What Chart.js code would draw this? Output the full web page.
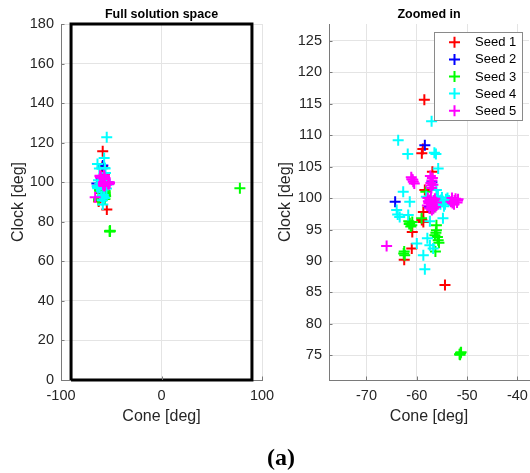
<!DOCTYPE html>
<html>
<head>
<meta charset="utf-8">
<script src="https://cdn.jsdelivr.net/npm/chart.js@4.4.1/dist/chart.umd.min.js"></script>
<style>
  html, body { margin: 0; padding: 0; background: #fff; }
  #wrap { position: relative; width: 530px; height: 473px; overflow: hidden; }
  canvas { position: absolute; top: 0; }
  #full { left: 0; }
  #zoom { left: 270px; }
  #cap { position: absolute; left: 231px; width: 100px; top: 444px; text-align: center;
         font: bold 24px "Liberation Serif", "DejaVu Serif", serif; color: #000; line-height: 26px; }
</style>
</head>
<body>
<div id="wrap">
  <canvas id="full" width="280" height="473"></canvas>
  <canvas id="zoom" width="260" height="473"></canvas>
  <div id="cap">(a)</div>
</div>
<script>
// Optimiser runs: cone / clock angle of each solution, one pair of arrays per seed
const seedLabels = ['Seed 1', 'Seed 2', 'Seed 3', 'Seed 4', 'Seed 5'];
const seedColors = ['#ff0000', '#0000ff', '#00ff00', '#00ffff', '#ff00ff'];

const seed1Cone  = [-58.5, -59.0, -58.8, -56.9, -58.4, -58.7, -59.0, -58.7, -60.9, -61.0, -62.5, -54.4, -57.4];
const seed1Clock = [115.6, 107.1, 107.8, 104.2, 101.3,  97.8,  96.5,  96.2,  94.6,  92.0,  90.2,  86.2,  98.4];

const seed2Cone  = [-58.4, -64.3, -57.2, -57.0, -57.5];
const seed2Clock = [108.4,  99.4,  99.2, 102.5,  98.6];

const seed3Cone  = [78.0, -51.3, -51.5, -51.2, -51.4, -58.2, -59.05, -61.4, -61.0, -61.6, -60.9, -61.2, -61.5, -56.1, -56.1, -56.4, -56.2, -55.75, -55.6, -55.9, -62.5, -62.4, -62.6, -56.3, -56.5];
const seed3Clock = [97.0,  75.4,  75.2,  75.5,  75.1, 101.0,  96.8,   96.0,  95.7,  96.3,  96.2,  95.5,  95.9,  95.7,  94.9,  94.1,  94.5,  93.3,   92.9,  93.8,  91.5,  90.9,  91.2,  91.5,  98.6];

const seed4Cone  = [-54.5, -57.06, -63.7, -61.8, -56.5, -56.2, -55.75, -56.1, -62.7, -61.4, -54.8, -54.2, -55.3, -53.6, -55.8, -55.6, -55.0, -54.4, -53.9, -55.2, -54.6, -64.0, -63.8, -63.4, -61.7, -54.8, -57.9, -60.0, -57.4, -56.75, -58.7, -58.4, -58.1, -57.4];
const seed4Clock = [122.8, 112.2, 109.2, 107.0, 107.2, 107.0, 104.7, 101.3, 101.0,  99.4,  99.4,  99.8,  99.0,  99.6, 100.3,  99.2, 100.1,  99.0, 100.0,  99.7,  98.7,  98.1,  97.4,  97.0,  97.3,  96.8,  93.6,  92.8,  92.5,  92.0,   90.9,  88.7, 100.2,  96.3];

const seed5Cone  = [-66.0, -61.1, -60.8, -60.5, -61.0, -60.7,
                    -57.3, -57.0, -57.3, -57.1, -56.9, -57.2, -56.8,
                    -57.8, -57.2, -56.6, -57.6, -56.9, -57.5, -56.3, -57.0, -57.9, -56.1, -57.4, -56.7, -57.1, -56.4, -57.7, -56.9,
                    -53.0, -52.5, -52.0, -52.6, -51.8, -53.2, -52.3, -52.9, -51.9];
const seed5Clock = [ 92.4, 103.3, 102.9, 102.3, 103.0, 102.6,
                    103.5, 102.8, 102.0, 101.6, 103.2, 102.4, 102.1,
                    100.0, 100.1,  99.6,  99.2,  98.9,  98.4,  98.6,  98.1,  98.8,  99.3,  99.7,  98.3,  99.0,  99.9,  99.5,  98.6,
                    100.0,  99.6,  99.3,  99.0,  99.8,  99.4,  99.9,  99.2,  99.6];

// Feasible region outline (cone limits x clock limits)
const boxCone  = [-90, -90, 90, 90, -90];
const boxClock = [0, 180, 180, 0, 0];

// Axis ranges and tick spacing
const fullConeRange   = [-100, 100];
const fullClockRange  = [0, 180];
const fullConeStep    = 100;
const fullClockStep   = 20;
const zoomConeRange   = [-77.45, -37.7];
const zoomClockRange  = [71.1, 127.65];
const zoomConeStep    = 10;
const zoomClockStep   = 5;

const seedCones  = [seed1Cone, seed2Cone, seed3Cone, seed4Cone, seed5Cone];
const seedClocks = [seed1Clock, seed2Clock, seed3Clock, seed4Clock, seed5Clock];

const FONT = '"Liberation Sans", Arial, Helvetica, sans-serif';
const TEXT = '#262626';
const AXIS = '#7a7a7a';
const GRID = '#e4e4e4';

function pairs(xs, ys) { return xs.map((x, i) => ({ x: x, y: ys[i] })); }

// later seeds are painted over earlier ones (lower order = drawn later)
function seedDatasets() {
  return seedLabels.map((label, i) => ({
    label: label,
    data: pairs(seedCones[i], seedClocks[i]),
    order: seedLabels.length - i,
    pointStyle: 'cross',
    pointRadius: 5.5,
    pointBorderWidth: 2,
    borderColor: seedColors[i],
    backgroundColor: seedColors[i]
  }));
}

// small inward tick marks on the two axes
const innerTicks = {
  id: 'innerTicks',
  afterDraw(chart) {
    const ctx = chart.ctx, a = chart.chartArea;
    ctx.save();
    ctx.strokeStyle = AXIS;
    ctx.lineWidth = 1;
    const xs = chart.scales.x, ys = chart.scales.y;
    ctx.beginPath();
    xs.ticks.forEach(t => {
      const px = Math.round(xs.getPixelForValue(t.value)) + 0.5;
      ctx.moveTo(px, a.bottom); ctx.lineTo(px, a.bottom - 3.5);
    });
    ys.ticks.forEach(t => {
      const py = Math.round(ys.getPixelForValue(t.value)) + 0.5;
      ctx.moveTo(a.left, py); ctx.lineTo(a.left + 3.5, py);
    });
    ctx.stroke();
    ctx.restore();
  }
};

// legend box drawn above the markers, in the upper right of the plot
const boxLegend = {
  id: 'boxLegend',
  afterDatasetsDraw(chart) {
    const ctx = chart.ctx, a = chart.chartArea;
    const w = 88, h = 88;
    const x0 = a.right - 6.5 - w, y0 = a.top + 8.5;
    ctx.save();
    ctx.fillStyle = '#fff';
    ctx.fillRect(x0, y0, w, h);
    ctx.strokeStyle = '#8a8a8a';
    ctx.lineWidth = 1;
    ctx.strokeRect(x0, y0, w, h);
    ctx.font = '13px ' + FONT;
    ctx.textBaseline = 'middle';
    ctx.fillStyle = '#000';
    chart.data.datasets.forEach((ds, i) => {
      const cy = y0 + 9.8 + i * 17.1;
      const cx = x0 + 20;
      ctx.strokeStyle = ds.borderColor;
      ctx.lineWidth = 2;
      ctx.beginPath();
      ctx.moveTo(cx - 5.5, cy); ctx.lineTo(cx + 5.5, cy);
      ctx.moveTo(cx, cy - 5.5); ctx.lineTo(cx, cy + 5.5);
      ctx.stroke();
      ctx.fillText(ds.label, x0 + 40.5, cy + 0.5);
    });
    ctx.restore();
  }
};

function axisOptions(range, step, title, titlePad, fixSize, isX) {
  return {
    type: 'linear',
    min: range[0],
    max: range[1],
    border: { display: true, color: AXIS, width: 1 },
    grid: { color: GRID, lineWidth: 1, drawTicks: false },
    ticks: {
      stepSize: step,
      includeBounds: false,
      autoSkip: false,
      maxRotation: 0,
      padding: 7,
      color: TEXT,
      font: { family: FONT, size: 14.5 }
    },
    title: {
      display: true,
      text: title,
      color: TEXT,
      font: { family: FONT, size: 16 },
      padding: titlePad
    },
    afterFit(scale) {
      if (isX) { scale.height = fixSize; } else { scale.width = fixSize; }
      scale.paddingLeft = 0; scale.paddingRight = 0;
      scale.paddingTop = 0; scale.paddingBottom = 0;
    }
  };
}

function makeChart(id, datasets, opts) {
  return new Chart(document.getElementById(id), {
    type: 'scatter',
    data: { datasets: datasets },
    options: {
      responsive: false,
      animation: false,
      events: [],
      layout: { padding: opts.padding, autoPadding: false },
      plugins: {
        legend: { display: false },
        tooltip: { enabled: false },
        title: {
          display: true,
          text: opts.title,
          fullSize: false,
          color: '#000',
          font: { family: FONT, size: 12.5, weight: 'bold' },
          padding: { top: 7, bottom: 2 }
        }
      },
      scales: {
        x: axisOptions(opts.xRange, opts.xStep, 'Cone [deg]', { top: 0, bottom: 0 }, 46, true),
        y: axisOptions(opts.yRange, opts.yStep, 'Clock [deg]', { top: opts.yTitlePad, bottom: 0 }, opts.yWidth, false)
      }
    },
    plugins: opts.plugins
  });
}

// Full solution space: feasible box plus every solution
const fullSets = [{
  label: 'bounds',
  data: pairs(boxCone, boxClock),
  order: 10,
  showLine: true,
  pointRadius: 0,
  borderColor: '#000',
  borderWidth: 3,
  fill: false,
  clip: false
}].concat(seedDatasets());

makeChart('full', fullSets, {
  title: 'Full solution space',
  padding: { left: 0, right: 18, top: 0, bottom: 47 },
  xRange: fullConeRange, xStep: fullConeStep,
  yRange: fullClockRange, yStep: fullClockStep,
  yWidth: 61, yTitlePad: 9.4,
  plugins: [innerTicks]
});

// Zoomed view around the main cluster
makeChart('zoom', seedDatasets(), {
  title: 'Zoomed in',
  padding: { left: 0, right: 1, top: 0, bottom: 47 },
  xRange: zoomConeRange, xStep: zoomConeStep,
  yRange: zoomClockRange, yStep: zoomClockStep,
  yWidth: 59, yTitlePad: 5.9,
  plugins: [innerTicks, boxLegend]
});
</script>
</body>
</html>
